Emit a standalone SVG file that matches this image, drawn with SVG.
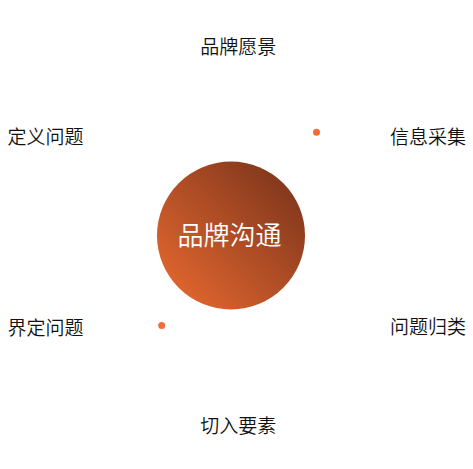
<svg xmlns="http://www.w3.org/2000/svg" width="473" height="469" viewBox="0 0 473 469">
<style>
.lbl{font-family:"Noto Sans CJK SC","Noto Sans",sans-serif;font-size:19px;font-weight:350;fill:#111111}
.ctr{font-family:"Noto Sans CJK SC","Noto Sans",sans-serif;font-size:26px;font-weight:350;fill:#ffffff}
.dot{fill:#f26b38}
</style>
<defs>
<linearGradient id="g" x1="0" y1="1" x2="1" y2="0">
<stop offset="0" stop-color="#ee6c31"/>
<stop offset="1" stop-color="#73301a"/>
</linearGradient>
</defs>
<rect width="473" height="469" fill="#ffffff"/>
<g id="connectors"></g>
<g id="center"><circle cx="231" cy="235.5" r="74" fill="url(#g)"/><text class="ctr" x="229.5" y="245" text-anchor="middle">品牌沟通</text></g>
<g id="n1"><text class="lbl" x="238.3" y="53.5" text-anchor="middle">品牌愿景</text></g>
<g id="n2"><text class="lbl" x="466" y="143.5" text-anchor="end">信息采集</text></g>
<g id="n3"><text class="lbl" x="466" y="333.5" text-anchor="end">问题归类</text></g>
<g id="n4"><text class="lbl" x="238.3" y="432.5" text-anchor="middle">切入要素</text></g>
<g id="n5"><text class="lbl" x="7.5" y="334.5">界定问题</text></g>
<g id="n6"><text class="lbl" x="7.5" y="143.5">定义问题</text></g>
<g id="dots"><circle class="dot" cx="316.5" cy="132.3" r="3.5"/><circle class="dot" cx="161.7" cy="325.5" r="3.5"/></g>
</svg>
